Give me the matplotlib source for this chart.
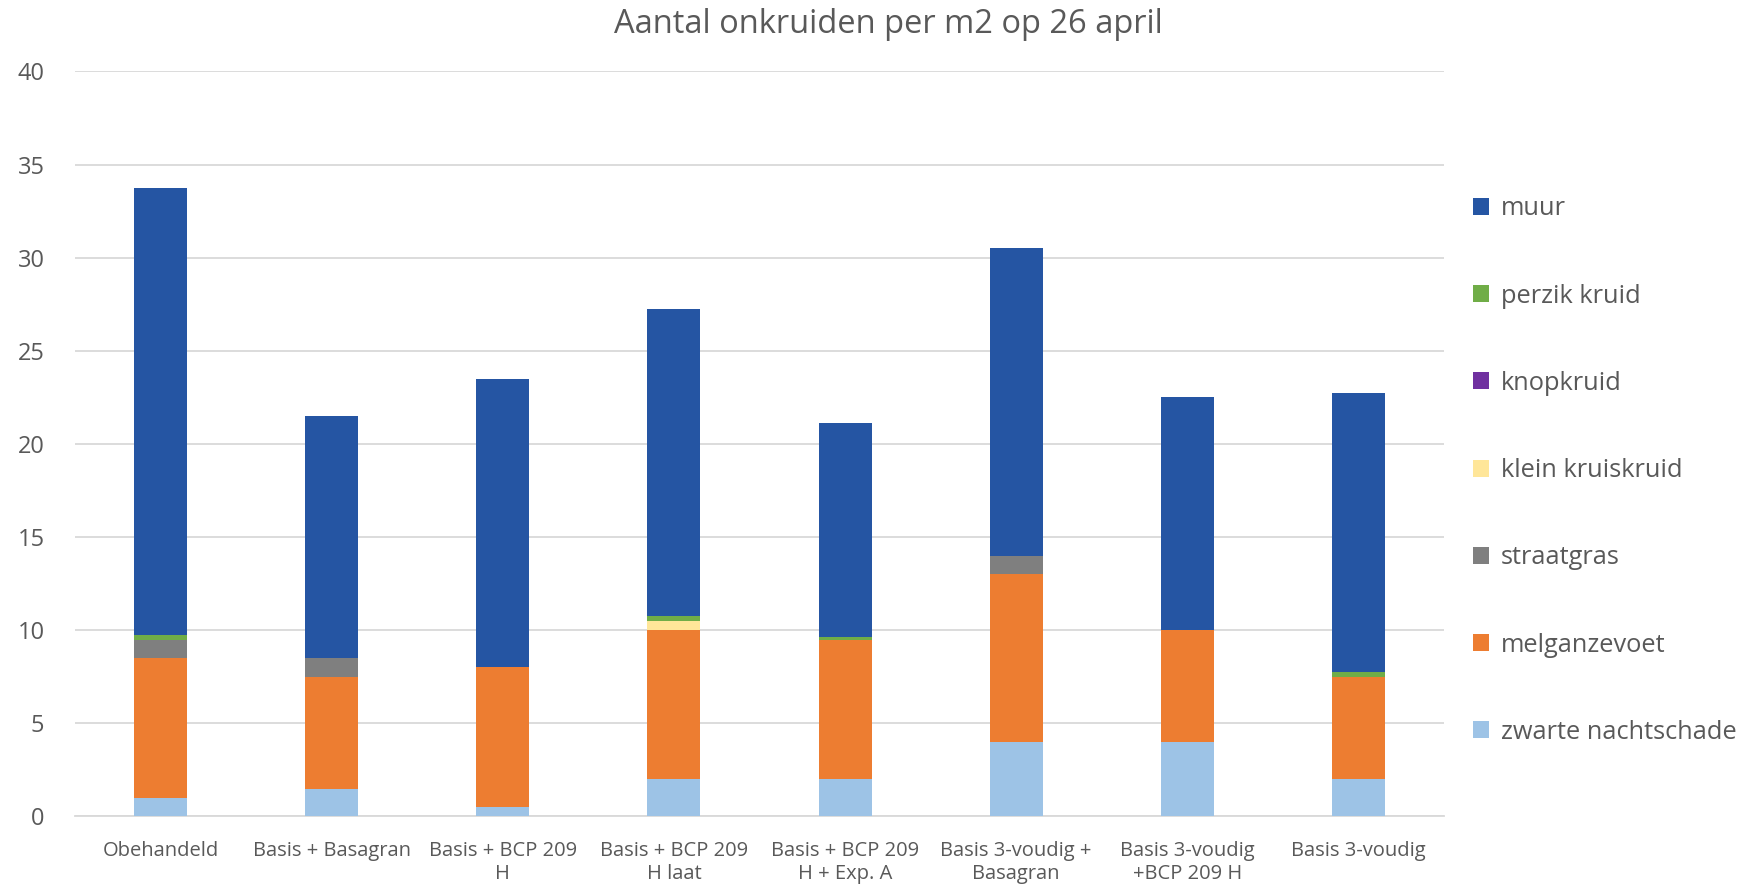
import matplotlib
matplotlib.use("Agg")
import matplotlib.pyplot as plt
import numpy as np

plt.rcParams['font.family'] = ['Open Sans', 'DejaVu Sans']

categories = ["Obehandeld", "Basis + Basagran", "Basis + BCP 209\nH", "Basis + BCP 209\nH laat",
              "Basis + BCP 209\nH + Exp. A", "Basis 3-voudig +\nBasagran", "Basis 3-voudig\n+BCP 209 H",
              "Basis 3-voudig"]

zwarte_nachtschade = [1.0, 1.5, 0.5, 2.0, 2.0, 4.0, 4.0, 2.0]
melganzevoet       = [7.5, 6.0, 7.5, 8.0, 7.5, 9.0, 6.0, 5.5]
straatgras         = [1.0, 1.0, 0.0, 0.0, 0.0, 1.0, 0.0, 0.0]
klein_kruiskruid   = [0.0, 0.0, 0.0, 0.5, 0.0, 0.0, 0.0, 0.0]
knopkruid          = [0.0, 0.0, 0.0, 0.0, 0.0, 0.0, 0.0, 0.0]
perzik_kruid       = [0.25, 0.0, 0.0, 0.25, 0.125, 0.0, 0.0, 0.25]
muur               = [24.0, 13.0, 15.5, 16.5, 11.5, 16.5, 12.5, 15.0]

series = [
    ("zwarte nachtschade", zwarte_nachtschade, "#9DC3E6"),
    ("melganzevoet", melganzevoet, "#ED7D31"),
    ("straatgras", straatgras, "#7F7F7F"),
    ("klein kruiskruid", klein_kruiskruid, "#FFE699"),
    ("knopkruid", knopkruid, "#7030A0"),
    ("perzik kruid", perzik_kruid, "#70AD47"),
    ("muur", muur, "#2555A3"),
]

fig = plt.figure(figsize=(17.49, 8.89), dpi=100)
ax = fig.add_axes([0.0429, 0.0816, 0.7827, 0.8381])

x = np.arange(len(categories))
bottom = np.zeros(len(categories))
handles = []
for name, vals, col in series:
    vals = np.array(vals)
    b = ax.bar(x, vals, width=0.31, bottom=bottom, color=col, label=name, zorder=3)
    handles.append(b)
    bottom += vals

ax.set_xlim(-0.5, len(categories) - 0.5)
ax.set_ylim(0, 40)
ax.set_yticks(np.arange(0, 41, 5))
ax.yaxis.grid(True, color="#D9D9D9", linewidth=1.3, zorder=0)
for s in ["top", "right", "left"]:
    ax.spines[s].set_visible(False)
ax.spines["bottom"].set_color("#D9D9D9")
ax.spines["bottom"].set_linewidth(1.3)
ax.tick_params(axis="both", length=0, colors="#595959")
ax.tick_params(axis="y", labelsize=17, pad=22)
ax.tick_params(axis="x", labelsize=14.5, pad=18)
ax.set_xticks(x)
ax.set_xticklabels(categories, linespacing=1.2)

fig.text(0.508, 0.972, "Aantal onkruiden per m2 op 26 april", ha="center", va="center",
         fontsize=23.5, color="#595959")

leg = fig.legend(handles[::-1], [s[0] for s in series][::-1], loc="upper left",
                 bbox_to_anchor=(0.829, 0.805), frameon=False, fontsize=18.3,
                 handlelength=0.65, handleheight=0.65, handletextpad=0.45,
                 labelspacing=2.45, labelcolor="#595959")

fig.savefig("out.png", dpi=100)
